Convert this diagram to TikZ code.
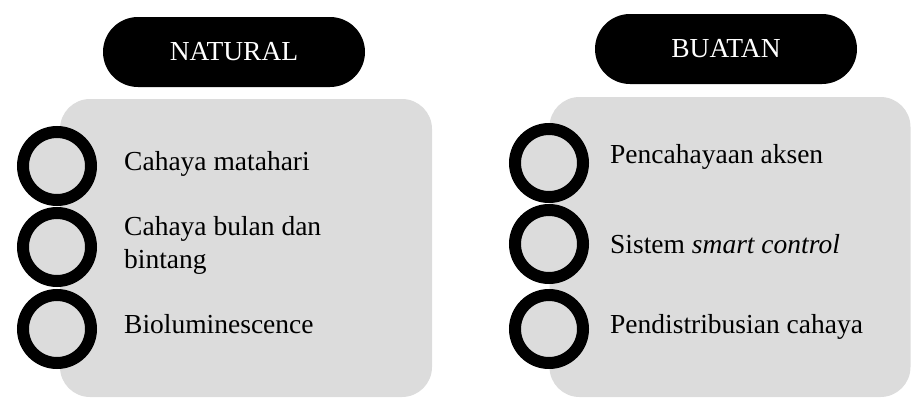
\documentclass[tikz,border=0pt]{standalone}
\usepackage{fontspec}
\setmainfont{Liberation Serif}
\usepackage{xcolor}
\usetikzlibrary{positioning}
\definecolor{panelgray}{RGB}{220,220,220}
\tikzset{
  pill/.style={fill=black, text=white, rounded corners=35pt, minimum width=262pt, minimum height=70pt, font=\fontsize{27.5}{33}\selectfont},
  panel/.style={fill=panelgray, rounded corners=30pt, inner sep=0pt},
  ring/.style={circle, draw=black, line width=12pt, fill=panelgray, minimum size=68pt, inner sep=0pt},
  item/.style={anchor=base west, font=\fontsize{27.5}{33}\selectfont, align=left, inner sep=0pt},
}

\begin{document}
\begin{tikzpicture}[x=1pt, y=-1pt]
\useasboundingbox (0,0) rectangle (911,399);
% headers
\node[pill] (nat) at (234,52) {NATURAL};
\node[pill] (buat) at (726,49) {BUATAN};
% panels
\node[panel, minimum width=372pt, minimum height=298pt] (pnat) at (246,248) {};
\node[panel, minimum width=361pt, minimum height=300pt] (pbuat) at (730,247) {};
% left column
\node[ring] (n1) at (57,166) {};
\node[ring] (n2) at (57,247) {};
\node[ring] (n3) at (57,329) {};
\node[item] (tn1) at (124,170) {Cahaya matahari};
\node[item] (tn2) at (124,268) {Cahaya bulan dan\\bintang};
\node[item] (tn3) at (124,333) {Bioluminescence};
% right column
\node[ring] (b1) at (549,163) {};
\node[ring] (b2) at (549,244) {};
\node[ring] (b3) at (549,329) {};
\node[item] (tb1) at (610,163) {Pencahayaan aksen};
\node[item] (tb2) at (610,253) {Sistem \textit{smart control}};
\node[item] (tb3) at (610,333) {Pendistribusian cahaya};
\end{tikzpicture}
\end{document}
